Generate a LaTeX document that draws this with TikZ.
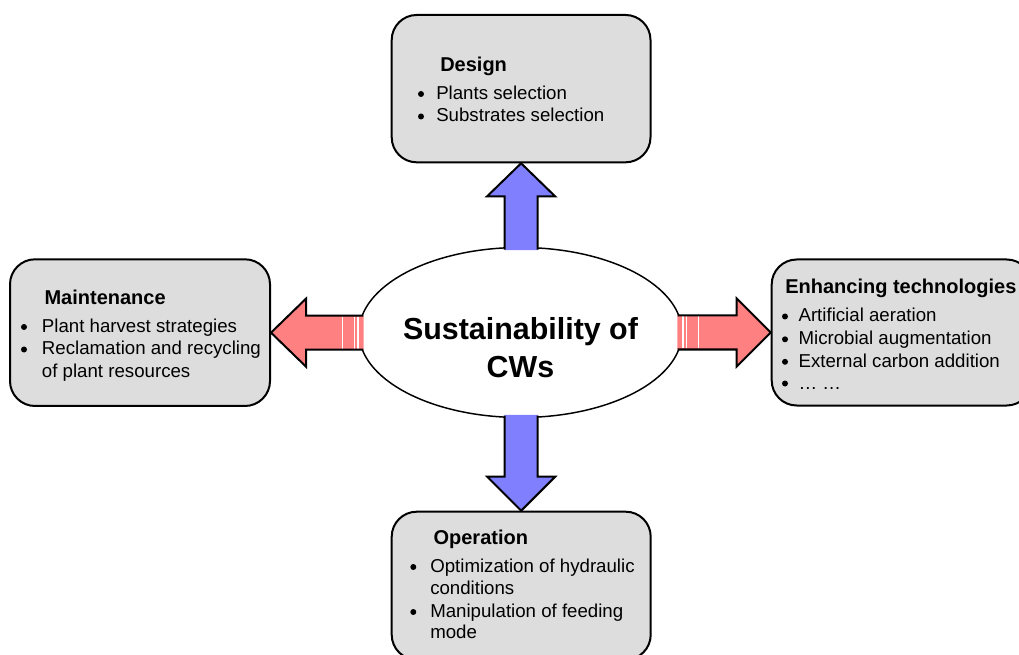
\documentclass[tikz,border=0pt]{standalone}
\usepackage{fontspec}
\setmainfont{Liberation Sans}
\usetikzlibrary{shapes.geometric,calc}
\definecolor{boxgray}{HTML}{DDDDDD}
\definecolor{arrowred}{HTML}{FF8080}
\definecolor{arrowblue}{HTML}{8080FF}

\begin{document}
\begin{tikzpicture}[x=0.75pt,y=-0.75pt,
  panel/.style={draw=black, line width=1.5pt, fill=boxgray, rounded corners=18.75pt, inner sep=0pt},
  title/.style={anchor=base west, inner sep=0pt, font=\fontsize{15}{18}\selectfont\bfseries},
  item/.style={anchor=base west, inner sep=0pt, font=\fontsize{14}{17}\selectfont},
  dot/.style={circle, fill=black, inner sep=0pt, minimum size=4.5pt},
  hubtext/.style={anchor=base, inner sep=0pt, font=\fontsize{22.8}{28}\selectfont\bfseries},
  arrowline/.style={draw=black, line width=1.5pt, line join=miter},
  stripe/.style={draw=white, line width=1.1pt},
]
\useasboundingbox (0,0) rectangle (1019,655);

% the four topic panels
\node[panel, minimum width=194.1pt, minimum height=110.5pt] (design) at (521.1,88.65) {};
\node[panel, minimum width=195pt, minimum height=110pt] (maint) at (140,332.65) {};
\node[panel, minimum width=195pt, minimum height=109.5pt] (enh) at (901.7,332.5) {};
\node[panel, minimum width=194.25pt, minimum height=111pt] (oper) at (521.2,585.7) {};

% central ellipse
\node[ellipse, draw=black, line width=1.1pt, fill=white, minimum width=242.25pt, minimum height=127.5pt, inner sep=0pt] (hub) at (520.5,332.5) {};

% up arrow to Design
\coordinate (tu) at (design.south);
\fill[arrowblue] (tu) -- ($(tu)+(34,33)$) -- ($(tu)+(16.5,33)$) -- ($(tu)+(16.5,86.9)$)
  -- ($(tu)+(-16.5,86.9)$) -- ($(tu)+(-16.5,33)$) -- ($(tu)+(-34,33)$) -- cycle;
\draw[arrowline] ($(tu)+(16.5,86.2)$) -- ($(tu)+(16.5,33)$) -- ($(tu)+(34,33)$) -- (tu)
  -- ($(tu)+(-34,33)$) -- ($(tu)+(-16.5,33)$) -- ($(tu)+(-16.5,86.2)$);

% down arrow to Operation
\coordinate (td) at (oper.north);
\fill[arrowblue] (td) -- ($(td)+(34,-34)$) -- ($(td)+(16.5,-34)$) -- ($(td)+(16.5,-95.9)$)
  -- ($(td)+(-16.5,-95.9)$) -- ($(td)+(-16.5,-34)$) -- ($(td)+(-34,-34)$) -- cycle;
\draw[arrowline] ($(td)+(16.5,-95.1)$) -- ($(td)+(16.5,-34)$) -- ($(td)+(34,-34)$) -- (td)
  -- ($(td)+(-34,-34)$) -- ($(td)+(-16.5,-34)$) -- ($(td)+(-16.5,-95.1)$);

% left arrow to Maintenance
\coordinate (tl) at (maint.east);
\fill[arrowred] (tl) -- ($(tl)+(35,-34)$) -- ($(tl)+(35,-17)$) -- ($(tl)+(92.6,-17)$)
  -- ($(tl)+(92.6,17)$) -- ($(tl)+(35,17)$) -- ($(tl)+(35,34)$) -- cycle;
\foreach \s in {71.5,83.3,86.8}
  \draw[stripe] ($(tl)+(\s,-16)$) -- ($(tl)+(\s,16)$);
\draw[arrowline] ($(tl)+(92.3,-17)$) -- ($(tl)+(35,-17)$) -- ($(tl)+(35,-34)$) -- (tl)
  -- ($(tl)+(35,34)$) -- ($(tl)+(35,17)$) -- ($(tl)+(92.3,17)$);

% right arrow to Enhancing technologies
\coordinate (tr) at (enh.west);
\fill[arrowred] (tr) -- ($(tr)+(-34,-34)$) -- ($(tr)+(-34,-17)$) -- ($(tr)+(-93.3,-17)$)
  -- ($(tr)+(-93.3,17)$) -- ($(tr)+(-34,17)$) -- ($(tr)+(-34,34)$) -- cycle;
\foreach \s in {72.2,84,87.5}
  \draw[stripe] ($(tr)+(-\s,-16)$) -- ($(tr)+(-\s,16)$);
\draw[arrowline] ($(tr)+(-93,-17)$) -- ($(tr)+(-34,-17)$) -- ($(tr)+(-34,-34)$) -- (tr)
  -- ($(tr)+(-34,34)$) -- ($(tr)+(-34,17)$) -- ($(tr)+(-93,17)$);

% central label
\node[hubtext] (hub-l1) at (520.5,339.8) {Sustainability of};
\node[hubtext] (hub-l2) at (520.5,377.2) {CWs};

% Design
\node[title] (design-t) at (440,71.2) {Design};
\node[dot] (design-b1) at (421,94) {};
\node[item] (design-i1) at (436,99.5) {Plants selection};
\node[dot] (design-b2) at (421,116.5) {};
\node[item] (design-i2) at (436,121.5) {Substrates selection};

% Maintenance
\node[title] (maint-t) at (44.3,304.5) {Maintenance};
\node[dot] (maint-b1) at (24,327) {};
\node[item] (maint-i1) at (41.7,332.2) {Plant harvest strategies};
\node[dot] (maint-b2) at (24,349.5) {};
\node[item] (maint-i2) at (41.7,354.5) {Reclamation and recycling};
\node[item] (maint-i3) at (41.7,377.2) {of plant resources};

% Enhancing technologies
\node[title] (enh-t) at (785,293.8) {Enhancing technologies};
\node[dot] (enh-b1) at (785,316.5) {};
\node[item] (enh-i1) at (798.3,322) {Artificial aeration};
\node[dot] (enh-b2) at (785,339.3) {};
\node[item] (enh-i2) at (798.3,344.5) {Microbial augmentation};
\node[dot] (enh-b3) at (785,361.8) {};
\node[item] (enh-i3) at (798.3,367) {External carbon addition};
\node[dot] (enh-b4) at (785,383.5) {};
\node[item] (enh-i4) at (798.3,389) {… …};

% Operation
\node[title] (oper-t) at (433.3,544.8) {Operation};
\node[dot] (oper-b1) at (413.3,567) {};
\node[item] (oper-i1) at (430,572.2) {Optimization of hydraulic};
\node[item] (oper-i2) at (430,594.8) {conditions};
\node[dot] (oper-b2) at (413.3,612) {};
\node[item] (oper-i3) at (430,617.2) {Manipulation of feeding};
\node[item] (oper-i4) at (430,638.8) {mode};
\end{tikzpicture}
\end{document}
